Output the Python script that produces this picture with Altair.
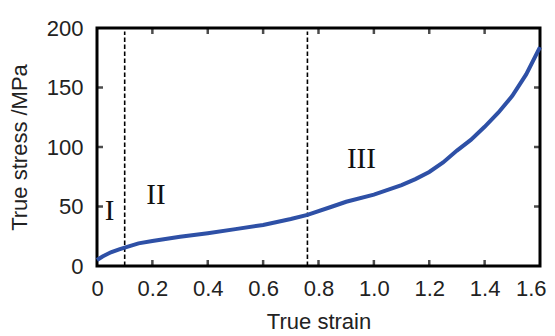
import altair as alt
import pandas as pd

# curve data
strain = [0, 0.02, 0.05, 0.08, 0.1, 0.15, 0.2, 0.3, 0.4, 0.5, 0.6, 0.7, 0.76,
          0.85, 0.9, 1.0, 1.1, 1.15, 1.2, 1.25, 1.3, 1.35, 1.4, 1.45, 1.5, 1.55, 1.6]
stress = [5, 8, 11.5, 14, 15.5, 19, 21, 24.5, 27.5, 31, 34.5, 39.5, 43,
          50, 54, 60, 68, 73, 79, 87, 97, 106, 117, 129, 143, 161, 184]

# region boundaries
bound_x = [0.1, 0.76]
bound_top = 197

# region labels
reg_text = ["I", "II", "III"]
reg_x = [0.045, 0.213, 0.955]
reg_y = [46, 60, 90]

# tick values
x_ticks = [0, 0.2, 0.4, 0.6, 0.8, 1.0, 1.2, 1.4, 1.6]
y_ticks = [0, 50, 100, 150, 200]
x_inner = [0.2, 0.4, 0.6, 0.8, 1.0, 1.2, 1.4]
y_inner = [50, 100, 150]

W, H = 443, 238
FONT = "Liberation Sans"
FS = 22

xs = alt.Scale(domain=[0, 1.6], nice=False, zero=False)
ys = alt.Scale(domain=[0, 200], nice=False, zero=False)

curve_df = pd.DataFrame({"strain": strain, "stress": stress})
bound_df = pd.DataFrame({"x": bound_x, "y0": [0] * len(bound_x), "y1": [bound_top] * len(bound_x)})
reg_df = pd.DataFrame({"t": reg_text, "x": reg_x, "y": reg_y})
xt_df = pd.DataFrame({"x": x_inner})
yt_df = pd.DataFrame({"y": y_inner})

xaxis = alt.Axis(values=x_ticks, labelExpr="datum.value == 0 ? '0' : format(datum.value, '.1f')",
                 ticks=False, tickSize=0, domain=False, grid=False,
                 labelFlush=True, labelFlushOffset=6,
                 labelFont=FONT, labelFontSize=FS, labelColor="#222", labelPadding=12,
                 title="True strain", titleFont=FONT, titleFontSize=FS, titleFontWeight="normal",
                 titleColor="#222", titlePadding=12)
yaxis = alt.Axis(values=y_ticks, ticks=False, tickSize=0, domain=False, grid=False, labelFlush=False,
                 labelFont=FONT, labelFontSize=FS, labelColor="#222", labelPadding=14,
                 title="True stress /MPa", titleFont=FONT, titleFontSize=FS, titleFontWeight="normal",
                 titleColor="#222", titlePadding=15)

curve = alt.Chart(curve_df).mark_line(color="#2E50A6", strokeWidth=4).encode(
    x=alt.X("strain:Q", scale=xs, axis=xaxis),
    y=alt.Y("stress:Q", scale=ys, axis=yaxis),
)

bounds = alt.Chart(bound_df).mark_rule(color="black", strokeWidth=1.6, strokeDash=[4.5, 2.5]).encode(
    x=alt.X("x:Q", scale=xs), y=alt.Y("y0:Q", scale=ys), y2="y1:Q"
)

labels = alt.Chart(reg_df).mark_text(font="Liberation Serif", fontSize=29, color="#111",
                                     align="center", baseline="middle").encode(
    x=alt.X("x:Q", scale=xs), y=alt.Y("y:Q", scale=ys), text="t:N"
)

TL = 6
tick_style = dict(color="black", thickness=2.5, size=TL)
xt_bottom = alt.Chart(xt_df).mark_tick(orient="vertical", **tick_style).encode(
    x=alt.X("x:Q", scale=xs), y=alt.value(H - TL / 2))
xt_top = alt.Chart(xt_df).mark_tick(orient="vertical", **tick_style).encode(
    x=alt.X("x:Q", scale=xs), y=alt.value(TL / 2))
yt_left = alt.Chart(yt_df).mark_tick(orient="horizontal", **tick_style).encode(
    y=alt.Y("y:Q", scale=ys), x=alt.value(TL / 2))
yt_right = alt.Chart(yt_df).mark_tick(orient="horizontal", **tick_style).encode(
    y=alt.Y("y:Q", scale=ys), x=alt.value(W - TL / 2))

chart = alt.layer(bounds, curve, labels, xt_bottom, xt_top, yt_left, yt_right).properties(
    width=W, height=H,
    background="white",
    autosize=alt.AutoSizeParams(type="none"),
    padding={"left": 89, "top": 20, "right": 7, "bottom": 68},
).configure_view(stroke="black", strokeWidth=3)

chart.save("out.html", embed_options={"renderer": "svg", "actions": False})
